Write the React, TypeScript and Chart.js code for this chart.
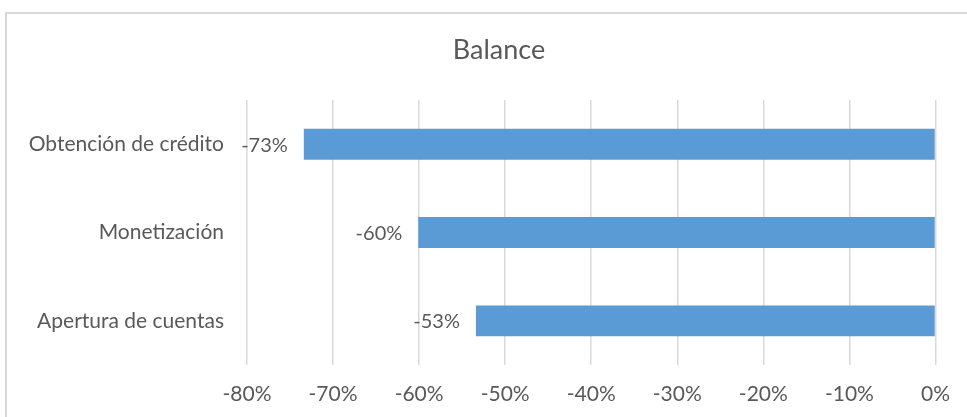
import React, { useEffect, useRef } from "react";
import { Chart, registerables } from "chart.js";

Chart.register(...registerables);

const categories = ["Obtención de crédito", "Monetización", "Apertura de cuentas"];
const balanceValues = [-73.4, -60.1, -53.4];
const xTickMin = -80;
const xTickMax = 0;
const chartTitle = "Balance";

const TEXT_COLOR = "#595959";
const FONT = "Lato, 'Open Sans', sans-serif";

const framePlugin = {
  id: "frame",
  beforeDraw(chart: any) {
    const ctx = chart.ctx;
    ctx.save();
    ctx.strokeStyle = "#d9d9d9";
    ctx.lineWidth = 2;
    ctx.beginPath();
    ctx.moveTo(6, chart.height);
    ctx.lineTo(6, 13);
    ctx.lineTo(chart.width, 13);
    ctx.stroke();
    // title, centred over the chart frame
    ctx.font = `27px ${FONT}`;
    ctx.fillStyle = TEXT_COLOR;
    ctx.textAlign = "center";
    ctx.textBaseline = "middle";
    ctx.fillText(chartTitle, 499, 50);
    ctx.restore();
  },
};

const labelPlugin = {
  id: "barLabels",
  afterDatasetsDraw(chart: any) {
    const ctx = chart.ctx;
    const meta = chart.getDatasetMeta(0);
    ctx.save();
    ctx.font = `20px ${FONT}`;
    ctx.fillStyle = TEXT_COLOR;
    ctx.textAlign = "right";
    ctx.textBaseline = "middle";
    meta.data.forEach((el: any, i: number) => {
      const v = balanceValues[i];
      const left = Math.min(el.x, el.base);
      ctx.fillText(`${Math.round(v)}%`, left - 16, el.y + 1);
    });
    ctx.restore();
  },
};

export default function App() {
  const ref = useRef<HTMLCanvasElement>(null);
  useEffect(() => {
    document.body.style.margin = "0";
    const chart = new Chart(ref.current as HTMLCanvasElement, {
      type: "bar",
      data: {
        labels: categories,
        datasets: [
          {
            data: balanceValues,
            backgroundColor: "#5b9bd5",
            borderWidth: 0,
            barPercentage: 0.35,
            categoryPercentage: 1,
          },
        ],
      },
      options: {
        indexAxis: "y",
        animation: false,
        responsive: false,
        maintainAspectRatio: false,
        layout: { padding: { left: 0, right: 29, top: 100, bottom: 0 } },
        plugins: {
          legend: { display: false },
          tooltip: { enabled: false },
          title: { display: false },
        },
        scales: {
          x: {
            min: xTickMin,
            max: xTickMax,
            ticks: {
              stepSize: 10,
              color: TEXT_COLOR,
              font: { family: FONT, size: 21 },
              padding: 17,
              callback: (v: any) => `${v}%`,
            },
            grid: { color: "#d9d9d9", lineWidth: 1.5, drawTicks: false },
            border: { display: false },
            afterFit: (axis: any) => {
              axis.height = 52;
            },
          },
          y: {
            ticks: {
              color: TEXT_COLOR,
              font: { family: FONT, size: 21 },
              padding: 23,
            },
            grid: { display: false, drawTicks: false },
            border: { display: false },
            afterFit: (axis: any) => {
              axis.width = 247;
            },
          },
        },
      },
      plugins: [framePlugin, labelPlugin],
    });
    return () => chart.destroy();
  }, []);
  return (
    <div style={{ width: 967, height: 417, background: "#fff" }}>
      <canvas ref={ref} width={967} height={417} style={{ display: "block" }} />
    </div>
  );
}
